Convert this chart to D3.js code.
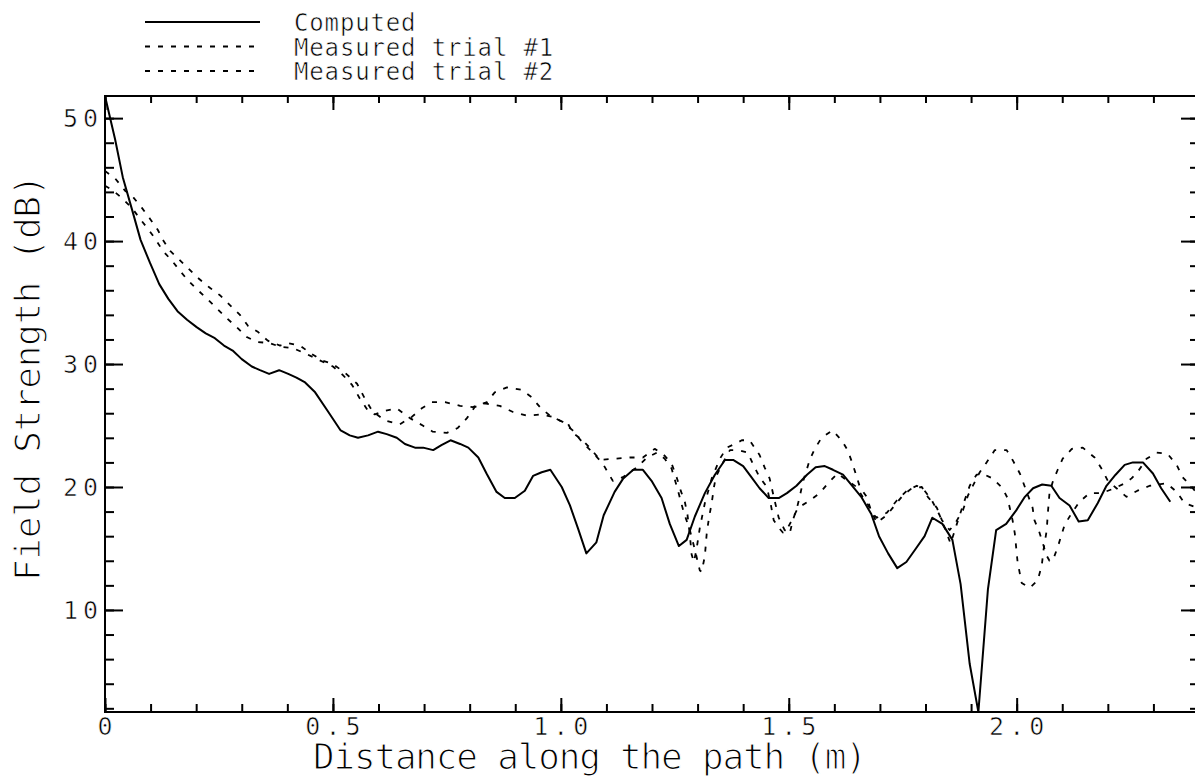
<!DOCTYPE html>
<html>
<head>
<meta charset="utf-8">
<script src="https://cdn.jsdelivr.net/npm/d3@7"></script>
<style>
  body { margin: 0; background: #fff; }
  svg { display: block; }
  text { font-family: "DejaVu Sans Mono", "Liberation Mono", monospace; fill: #000; stroke: #fff; }
</style>
</head>
<body>
<div id="chart"></div>
<script>
// Computed field strength (x in m, y in dB)
var computedX = [0,0.022,0.039,0.059,0.078,0.099,0.119,0.139,0.159,0.180,0.201,0.221,0.241,0.261,0.280,0.300,0.322,0.340,0.360,0.382,0.402,0.420,0.439,0.461,0.490,0.517,0.537,0.555,0.577,0.599,0.618,0.640,0.658,0.680,0.698,0.720,0.738,0.758,0.779,0.797,0.819,0.837,0.859,0.877,0.899,0.921,0.939,0.958,0.977,1.002,1.020,1.038,1.056,1.078,1.094,1.118,1.137,1.159,1.180,1.199,1.221,1.239,1.259,1.276,1.294,1.316,1.338,1.360,1.378,1.400,1.418,1.436,1.456,1.478,1.496,1.517,1.540,1.559,1.579,1.597,1.619,1.637,1.659,1.681,1.698,1.718,1.738,1.758,1.779,1.798,1.815,1.837,1.859,1.877,1.897,1.916,1.937,1.955,1.977,1.999,2.018,2.036,2.056,2.076,2.094,2.116,2.136,2.156,2.178,2.197,2.217,2.237,2.255,2.277,2.299,2.317,2.337];
var computedY = [51.8,48.3,45.2,42.6,40.1,38.2,36.5,35.3,34.3,33.6,33.0,32.5,32.1,31.5,31.1,30.4,29.8,29.5,29.2,29.5,29.2,28.9,28.5,27.7,26.1,24.6,24.2,24.0,24.2,24.5,24.3,24.0,23.5,23.2,23.2,23.0,23.4,23.8,23.5,23.2,22.4,21.1,19.6,19.1,19.1,19.7,20.9,21.2,21.4,20.0,18.5,16.6,14.6,15.5,17.7,19.6,20.7,21.4,21.4,20.5,19.1,17.0,15.2,15.7,17.6,19.5,21.0,22.2,22.2,21.7,20.8,19.9,19.1,19.1,19.5,20.1,21.0,21.6,21.7,21.4,21.0,20.2,19.2,17.8,16.0,14.6,13.4,13.9,15.0,16.0,17.5,17.0,15.7,12.1,5.6,1.7,11.7,16.5,17.0,18.1,19.2,19.9,20.2,20.1,19.1,18.5,17.2,17.3,18.7,20.1,21.0,21.8,22.0,22.0,21.1,19.9,18.8];

// Measured trial #1
var trial1X = [0,0.022,0.044,0.061,0.081,0.099,0.116,0.127,0.143,0.160,0.182,0.204,0.230,0.252,0.274,0.296,0.314,0.336,0.357,0.384,0.401,0.428,0.450,0.476,0.500,0.526,0.553,0.570,0.586,0.614,0.647,0.673,0.695,0.717,0.746,0.779,0.807,0.838,0.855,0.882,0.914,0.936,0.954,0.976,0.998,1.015,1.026,1.048,1.068,1.086,1.118,1.151,1.180,1.206,1.224,1.243,1.254,1.263,1.272,1.278,1.283,1.287,1.292,1.298,1.305,1.316,1.331,1.349,1.364,1.382,1.397,1.414,1.425,1.436,1.447,1.458,1.469,1.478,1.491,1.502,1.509,1.518,1.524,1.531,1.546,1.557,1.572,1.596,1.616,1.629,1.640,1.656,1.671,1.682,1.693,1.715,1.737,1.759,1.781,1.798,1.814,1.831,1.844,1.855,1.868,1.882,1.897,1.912,1.930,1.947,1.969,1.980,1.991,1.996,2.002,2.011,2.029,2.046,2.055,2.059,2.066,2.068,2.072,2.079,2.090,2.101,2.121,2.145,2.171,2.186,2.200,2.219,2.241,2.265,2.292,2.329,2.351,2.368,2.390];
var trial1Y = [45.7,45.1,44.1,43.6,42.7,41.8,40.9,40.1,39.2,38.6,37.8,37.0,36.2,35.6,34.8,34.0,33.1,32.6,31.9,31.5,31.7,31.5,30.9,30.3,30.0,29.3,28.4,27.2,26.2,25.4,25.1,25.7,26.4,26.9,26.9,26.6,26.5,26.9,27.7,28.1,27.9,27.3,26.5,25.8,25.4,25.2,24.4,23.8,23.0,22.2,22.3,22.4,22.4,23.1,22.7,21.9,20.8,19.7,18.8,17.7,16.1,14.5,13.9,15.0,16.7,18.7,20.7,22.3,23.2,23.5,23.8,23.8,23.2,22.6,21.6,20.7,18.9,17.5,16.5,16.2,17.3,18.3,19.2,20.4,22.2,23.1,24.0,24.6,23.8,23.0,21.9,20.0,19.2,17.9,17.5,17.9,18.9,19.7,20.1,19.7,18.9,17.7,16.5,15.4,16.9,18.5,20.1,21.0,21.0,20.7,19.9,19.1,17.3,16.2,13.9,12.2,11.8,12.4,13.6,14.9,16.5,17.7,19.5,20.4,21.4,22.3,23.1,23.2,22.4,21.5,20.5,19.9,19.2,19.7,20.1,20.3,19.6,18.7,18.4];

// Measured trial #2
var trial2X = [0,0.018,0.037,0.059,0.077,0.094,0.110,0.127,0.147,0.164,0.182,0.204,0.224,0.246,0.268,0.289,0.311,0.333,0.362,0.384,0.412,0.443,0.471,0.500,0.522,0.542,0.559,0.577,0.592,0.614,0.640,0.669,0.697,0.719,0.750,0.774,0.794,0.811,0.833,0.866,0.895,0.925,0.958,0.982,1.004,1.026,1.048,1.070,1.092,1.114,1.136,1.167,1.189,1.211,1.228,1.243,1.257,1.270,1.283,1.294,1.305,1.309,1.316,1.320,1.325,1.331,1.336,1.340,1.353,1.371,1.388,1.410,1.421,1.436,1.452,1.461,1.467,1.478,1.487,1.498,1.507,1.520,1.542,1.568,1.586,1.607,1.629,1.649,1.662,1.678,1.693,1.715,1.728,1.750,1.770,1.792,1.805,1.825,1.836,1.853,1.866,1.882,1.893,1.908,1.919,1.934,1.952,1.978,1.991,2.007,2.018,2.035,2.039,2.050,2.066,2.072,2.079,2.090,2.105,2.121,2.138,2.160,2.186,2.215,2.237,2.252,2.265,2.285,2.307,2.331,2.351,2.364,2.384,2.400];
var trial2Y = [44.5,44.1,43.5,42.7,41.8,41.0,40.2,39.2,38.4,37.6,36.8,36.0,35.3,34.5,33.7,33.0,32.2,31.8,31.7,31.4,31.3,30.8,30.3,29.8,29.1,28.3,27.2,26.2,25.9,26.2,26.4,25.6,25.0,24.5,24.4,24.8,25.6,26.5,26.8,26.6,26.1,25.8,25.9,25.7,25.3,24.6,23.6,22.8,21.9,20.5,20.8,21.6,22.4,22.8,22.3,21.5,19.7,17.9,16.5,14.9,13.2,13.1,14.4,16.2,17.5,18.7,20.0,20.8,21.8,23.0,23.0,22.8,21.9,20.8,20.0,18.5,17.3,16.7,16.3,16.7,17.3,18.3,18.8,19.5,20.3,21.1,20.5,20.0,19.2,18.3,17.1,17.7,18.3,19.3,19.9,20.0,19.2,18.3,17.3,16.5,17.1,18.1,19.3,20.4,21.2,22.0,23.0,23.0,22.2,21.1,20.0,18.3,17.3,16.3,14.4,14.0,14.0,15.1,16.9,17.9,18.8,19.5,19.5,19.9,20.3,20.7,21.2,22.3,22.8,22.7,21.8,20.8,20.0,19.3];

// Ticks and labels
var xMajorTicks = [0, 0.5, 1.0, 1.5, 2.0];
var xTickLabels = ["0", "0.5", "1.0", "1.5", "2.0"];
var yMajorTicks = [10, 20, 30, 40, 50];
var yTickLabels = ["10", "20", "30", "40", "50"];
var legendLabels = ["Computed", "Measured trial #1", "Measured trial #2"];

// Size and plot box
var width = 1195, height = 778;
var plot = { left: 105, right: 1199, top: 96, bottom: 712 };
var dashPattern = "5,8";

var svg = d3.select("#chart")
  .append("svg")
  .attr("width", width)
  .attr("height", height);

svg.append("rect").attr("width", width).attr("height", height).attr("fill", "#fff");

var x = d3.scaleLinear().domain([0, 2.4]).range([plot.left, plot.right]);
var y = d3.scaleLinear().domain([1.7, 51.8]).range([plot.bottom, plot.top]);

var xMinor = d3.range(0, 24).map(function (i) { return i / 10; });
var yMinor = d3.range(1, 26).map(function (i) { return i * 2; });

// Helper: draw a set of inward ticks with no labels
function drawTicks(axisFn, scale, values, size, transform) {
  var g = svg.append("g")
    .attr("transform", transform)
    .call(axisFn(scale).tickValues(values).tickSize(-size).tickFormat(""));
  g.select(".domain").remove();
  g.selectAll("line").attr("stroke", "#000").attr("stroke-width", 2);
  return g;
}

// Bottom and top ticks
drawTicks(d3.axisBottom, x, xMinor, 8, "translate(0," + plot.bottom + ")");
drawTicks(d3.axisBottom, x, xMajorTicks, 14, "translate(0," + plot.bottom + ")");
drawTicks(d3.axisTop, x, xMinor, 7, "translate(0," + plot.top + ")");
drawTicks(d3.axisTop, x, xMajorTicks, 14, "translate(0," + plot.top + ")");

// Left and right ticks
drawTicks(d3.axisLeft, y, yMinor, 9, "translate(" + plot.left + ",0)");
drawTicks(d3.axisLeft, y, yMajorTicks, 18, "translate(" + plot.left + ",0)");
drawTicks(d3.axisRight, y, yMinor, 9, "translate(" + plot.right + ",0)");
drawTicks(d3.axisRight, y, yMajorTicks, 18, "translate(" + plot.right + ",0)");

// Frame
svg.append("rect")
  .attr("x", plot.left)
  .attr("y", plot.top)
  .attr("width", plot.right - plot.left)
  .attr("height", plot.bottom - plot.top)
  .attr("fill", "none")
  .attr("stroke", "#000")
  .attr("stroke-width", 2);

// Tick labels (white stroke thins the glyphs toward the plotter look)
svg.selectAll(".xlab")
  .data(xMajorTicks)
  .enter()
  .append("text")
  .attr("class", "xlab")
  .attr("x", function (d) { return x(d) + 2.5; })
  .attr("y", plot.bottom + 23)
  .attr("text-anchor", "middle")
  .style("font-size", "25px")
  .style("letter-spacing", "5px")
  .style("stroke-width", "0.6px")
  .text(function (d, i) { return xTickLabels[i]; });

svg.selectAll(".ylab")
  .data(yMajorTicks)
  .enter()
  .append("text")
  .attr("class", "ylab")
  .attr("x", plot.left - 2)
  .attr("y", function (d) { return y(d) + 9; })
  .attr("text-anchor", "end")
  .style("font-size", "25px")
  .style("letter-spacing", "5px")
  .style("stroke-width", "0.6px")
  .text(function (d, i) { return yTickLabels[i]; });

// Axis titles
svg.append("text")
  .attr("x", 313)
  .attr("y", 769)
  .style("font-size", "36px")
  .style("letter-spacing", "-1.2px")
  .style("stroke-width", "1.2px")
  .text("Distance along the path (m)");

svg.append("text")
  .attr("transform", "translate(40,581) rotate(-90)")
  .style("font-size", "36px")
  .style("letter-spacing", "-0.3px")
  .style("stroke-width", "1.2px")
  .text("Field Strength (dB)");

// Lines
svg.append("clipPath").attr("id", "plotClip")
  .append("rect")
  .attr("x", plot.left)
  .attr("y", plot.top)
  .attr("width", plot.right - plot.left)
  .attr("height", plot.bottom - plot.top);

var line = d3.line()
  .x(function (d) { return x(d[0]); })
  .y(function (d) { return y(d[1]); });

var series = [
  { data: d3.zip(computedX, computedY), dash: null, w: 2 },
  { data: d3.zip(trial1X, trial1Y), dash: dashPattern, w: 1.8 },
  { data: d3.zip(trial2X, trial2Y), dash: dashPattern, w: 1.8 }
];

svg.append("g")
  .attr("clip-path", "url(#plotClip)")
  .selectAll("path")
  .data(series)
  .enter()
  .append("path")
  .attr("d", function (d) { return line(d.data); })
  .attr("fill", "none")
  .attr("stroke", "#000")
  .attr("stroke-width", function (d) { return d.w; })
  .attr("stroke-linejoin", "round")
  .attr("stroke-dasharray", function (d) { return d.dash; });

// Legend
var legend = svg.selectAll(".legend")
  .data(legendLabels)
  .enter()
  .append("g")
  .attr("class", "legend")
  .attr("transform", function (d, i) { return "translate(0," + (22 + i * 24.5) + ")"; });

legend.append("line")
  .attr("x1", 145)
  .attr("x2", 260)
  .attr("stroke", "#000")
  .attr("stroke-width", function (d, i) { return i === 0 ? 2 : 1.8; })
  .attr("stroke-dasharray", function (d, i) { return i === 0 ? null : dashPattern; });

legend.append("text")
  .attr("x", 294)
  .attr("y", 9)
  .style("font-size", "24px")
  .style("letter-spacing", "0.85px")
  .style("stroke-width", "0.6px")
  .text(function (d) { return d; });
</script>
</body>
</html>
